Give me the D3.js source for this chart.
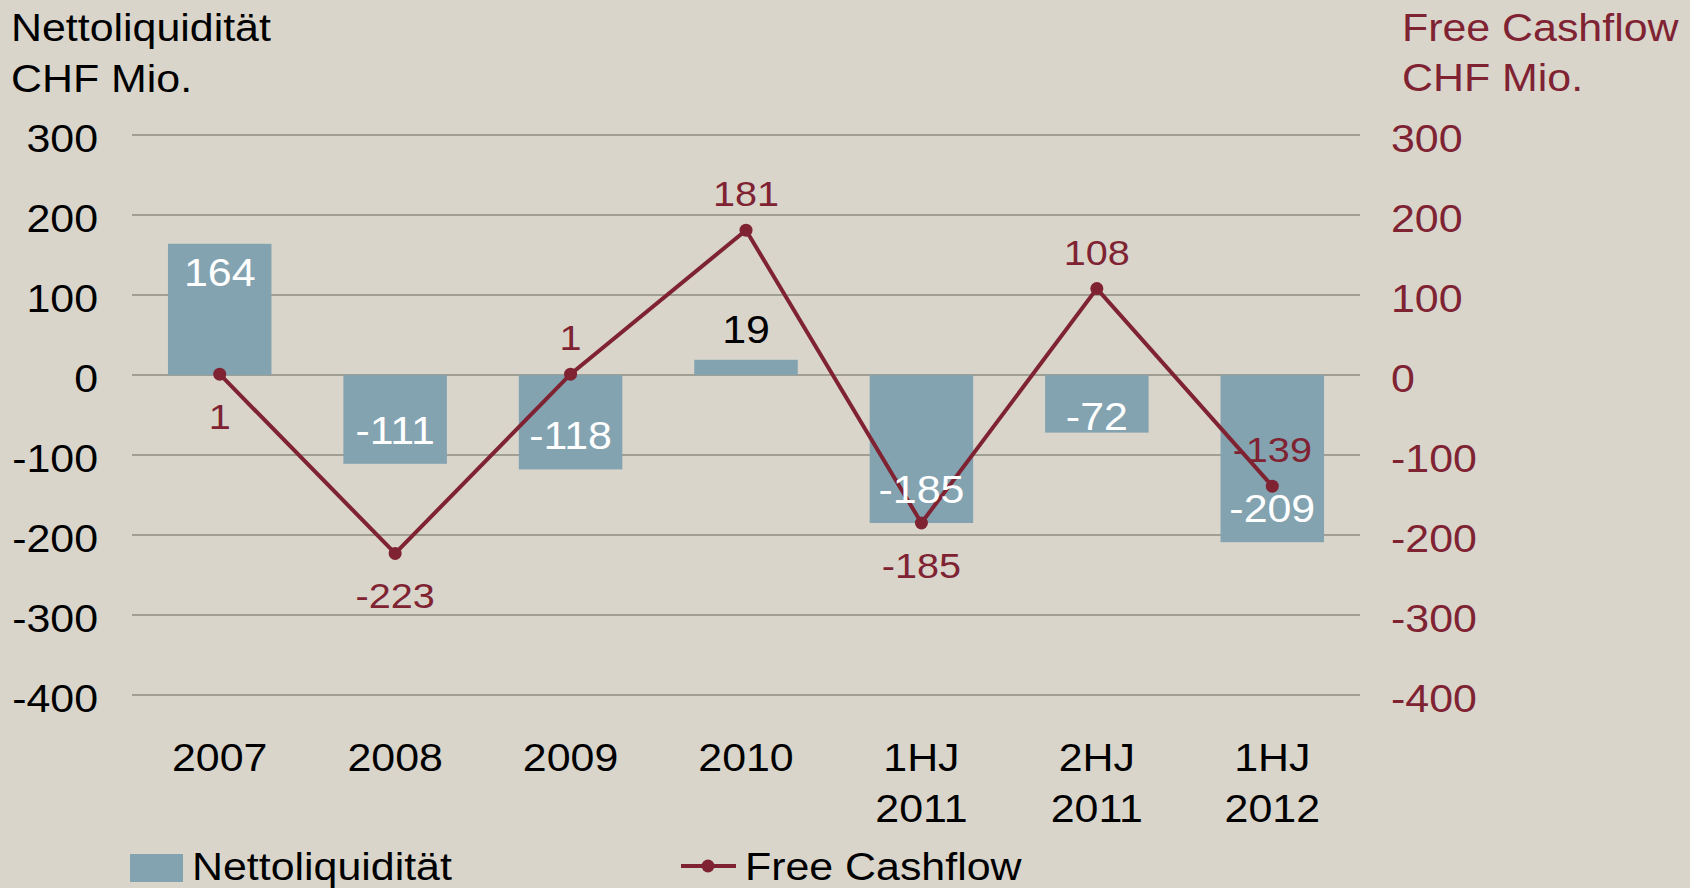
<!DOCTYPE html>
<html>
<head>
<meta charset="utf-8">
<script src="https://cdn.jsdelivr.net/npm/d3@7"></script>
<style>
  body { margin: 0; background: #d9d5cb; }
  svg text { font-family: "Liberation Sans", Arial, sans-serif; }
</style>
</head>
<body>
<svg id="chart" width="1690" height="888"></svg>
<script>
// data
const categories = [["2007"], ["2008"], ["2009"], ["2010"], ["1HJ", "2011"], ["2HJ", "2011"], ["1HJ", "2012"]];
const nettoliquiditaet = [164, -111, -118, 19, -185, -72, -209];
const freeCashflow = [1, -223, 1, 181, -185, 108, -139];
const cashflowLabelPos = ["below", "below", "above", "above", "below", "above", "above"];
const yTicks = [300, 200, 100, 0, -100, -200, -300, -400];

const BAR_COLOR = "#84a3b1";
const LINE_COLOR = "#7f2333";
const GRID_COLOR = "#8e8b80";
const STRETCH = "scale(1.1,1)";  // source fonts are drawn a bit wide

var svg = d3.select("#chart");

var xScale = d3.scaleBand()
               .domain(d3.range(categories.length))
               .range([132, 1360])
               .paddingInner(0.41)
               .paddingOuter(0.205);

// both axes share the same range
var yScale = d3.scaleLinear()
               .domain([-400, 300])
               .range([695, 135]);

var textAt = function(sel, x, y) {
  return sel.attr("transform", "translate(" + x + "," + y + ") " + STRETCH);
};

// gridlines
svg.append("g")
   .selectAll("line")
   .data(yTicks)
   .enter()
   .append("line")
   .attr("x1", 132)
   .attr("x2", 1360)
   .attr("y1", d => yScale(d))
   .attr("y2", d => yScale(d))
   .attr("stroke", GRID_COLOR)
   .attr("stroke-width", 1.3);

// left and right axes (plain hyphen for negatives)
var fmt = d => String(d);
var leftAxis = d3.axisLeft(yScale).tickValues(yTicks).tickFormat(fmt).tickSize(0).tickPadding(0);
var rightAxis = d3.axisRight(yScale).tickValues(yTicks).tickFormat(fmt).tickSize(0).tickPadding(0);

svg.append("g")
   .attr("transform", "translate(98,0)")
   .call(leftAxis)
   .call(g => g.select(".domain").remove())
   .call(g => g.selectAll(".tick text")
      .attr("x", 0).attr("dy", null).attr("y", 0)
      .attr("transform", "translate(0,16) " + STRETCH)
      .attr("fill", "#000")
      .style("font-size", "39px")
      .style("font-family", null));

svg.append("g")
   .attr("transform", "translate(1391,0)")
   .call(rightAxis)
   .call(g => g.select(".domain").remove())
   .call(g => g.selectAll(".tick text")
      .attr("x", 0).attr("dy", null).attr("y", 0)
      .attr("transform", "translate(0,16) " + STRETCH)
      .attr("fill", LINE_COLOR)
      .style("font-size", "39px")
      .style("font-family", null));

// axis titles
[["Nettoliquidität", 41], ["CHF Mio.", 92]].forEach(t => {
  svg.append("text").call(textAt, 11, t[1])
     .style("font-size", "39px").attr("fill", "#000").text(t[0]);
});
[["Free Cashflow", 41], ["CHF Mio.", 91]].forEach(t => {
  svg.append("text").call(textAt, 1402, t[1])
     .style("font-size", "39px").attr("fill", LINE_COLOR).text(t[0]);
});

// category labels
var xLabels = svg.append("g");
categories.forEach((c, i) => {
  c.forEach((line, j) => {
    xLabels.append("text")
           .call(textAt, xScale(i) + xScale.bandwidth() / 2, 771 + j * 51)
           .attr("text-anchor", "middle")
           .style("font-size", "39px")
           .text(line);
  });
});

// bars
var y0 = yScale(0);
svg.append("g")
   .selectAll("rect")
   .data(nettoliquiditaet)
   .enter()
   .append("rect")
   .attr("x", (d, i) => xScale(i))
   .attr("width", xScale.bandwidth())
   .attr("y", d => Math.min(yScale(d), y0))
   .attr("height", d => Math.abs(yScale(d) - y0))
   .attr("fill", BAR_COLOR);

// line
const linegen = d3.line()
                  .x((d, i) => xScale(i) + xScale.bandwidth() / 2)
                  .y(d => yScale(d));

svg.append("path")
   .datum(freeCashflow)
   .attr("fill", "none")
   .attr("stroke", LINE_COLOR)
   .attr("stroke-width", 4)
   .attr("d", linegen);

svg.append("g")
   .selectAll("circle")
   .data(freeCashflow)
   .enter()
   .append("circle")
   .attr("cx", (d, i) => xScale(i) + xScale.bandwidth() / 2)
   .attr("cy", d => yScale(d))
   .attr("r", 6.5)
   .attr("fill", LINE_COLOR);

// bar labels: inside end, or above when the bar is too short
var barLabels = svg.append("g");
nettoliquiditaet.forEach((v, i) => {
  var cx = xScale(i) + xScale.bandwidth() / 2;
  var yEnd = yScale(v);
  var y, color = "#fff";
  if (v >= 0 && y0 - yEnd > 60) {
    y = yEnd + 42;
  } else if (v >= 0) {
    y = yEnd - 17; color = "#000";
  } else {
    y = Math.max(yEnd - 20, y0 + 55);
  }
  barLabels.append("text")
           .call(textAt, cx, y)
           .attr("text-anchor", "middle")
           .attr("fill", color)
           .style("font-size", "39px")
           .text(v);
});

// cashflow labels
var lineLabels = svg.append("g");
freeCashflow.forEach((v, i) => {
  var cx = xScale(i) + xScale.bandwidth() / 2;
  var y = yScale(v) + (cashflowLabelPos[i] === "below" ? 55 : -24);
  lineLabels.append("text")
            .call(textAt, cx, y)
            .attr("text-anchor", "middle")
            .attr("fill", LINE_COLOR)
            .style("font-size", "36px")
            .text(v);
});

// legend
var legend = svg.append("g");
legend.append("rect")
      .attr("x", 130).attr("y", 854)
      .attr("width", 53).attr("height", 28)
      .attr("fill", BAR_COLOR);
legend.append("text").call(textAt, 192, 880)
      .style("font-size", "39px").text("Nettoliquidität");
legend.append("line")
      .attr("x1", 681).attr("x2", 736)
      .attr("y1", 866).attr("y2", 866)
      .attr("stroke", LINE_COLOR).attr("stroke-width", 4);
legend.append("circle")
      .attr("cx", 708).attr("cy", 866).attr("r", 6.5)
      .attr("fill", LINE_COLOR);
legend.append("text").call(textAt, 745, 880)
      .style("font-size", "39px").text("Free Cashflow");
</script>
</body>
</html>
